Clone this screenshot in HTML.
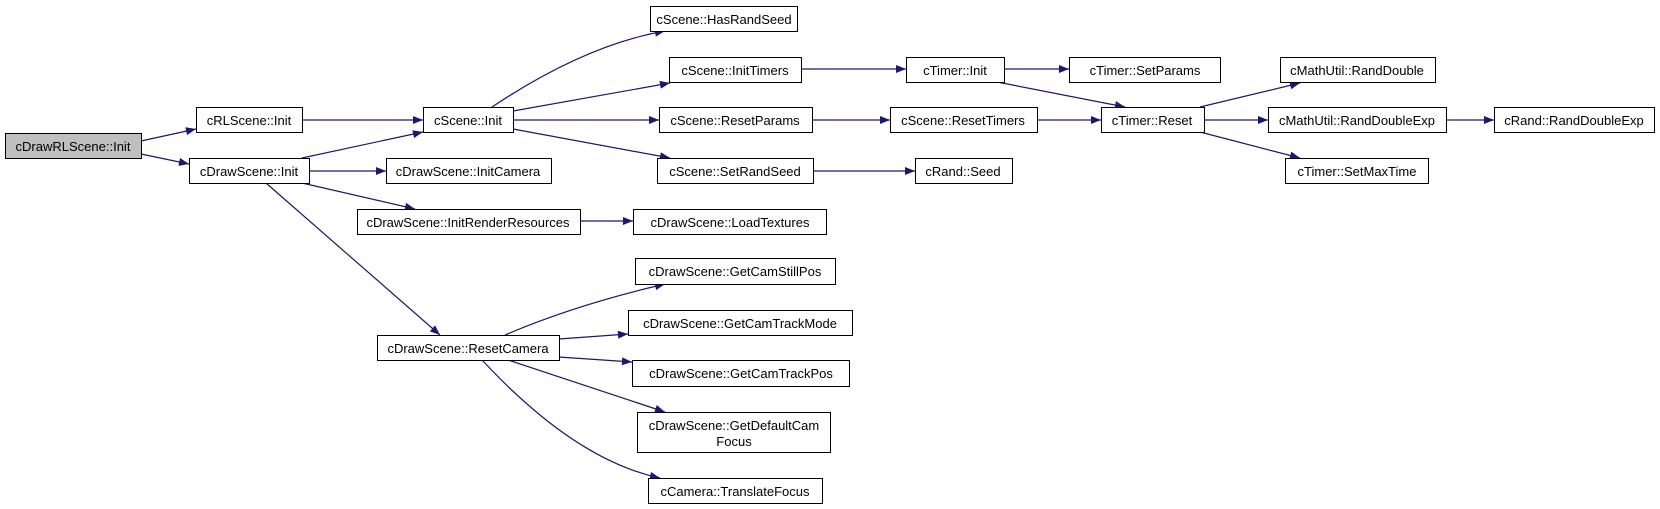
<!DOCTYPE html>
<html><head><meta charset="utf-8"><style>
html,body{margin:0;padding:0;background:#fff;}
svg{display:block;}
text{font-family:"Liberation Sans",Arial,sans-serif;font-size:13px;fill:#000;}
</style></head><body>
<svg width="1660" height="509" viewBox="0 0 1660 509" xmlns="http://www.w3.org/2000/svg">
<defs>
<marker id="a" viewBox="0 0 10 8" refX="10" refY="4" markerWidth="11" markerHeight="8" markerUnits="userSpaceOnUse" orient="auto">
<path d="M0,0 L10,4 L0,8 z" fill="#191970"/>
</marker>
</defs>
<g stroke="#191970" stroke-width="1.2" fill="none" marker-end="url(#a)">
<path d="M141,141 L196,129"/>
<path d="M141,154 L189,164"/>
<path d="M302,120 L423,120"/>
<path d="M302,158 L423,132"/>
<path d="M309,171 L386,171"/>
<path d="M302,183 L415,209"/>
<path d="M266,183 L440,335"/>
<path d="M492,107 Q585,45 665,31"/>
<path d="M513,111 L670,83"/>
<path d="M513,120 L659,120"/>
<path d="M513,129 L670,158"/>
<path d="M801,69 L906,69"/>
<path d="M1004,69 L1069,69"/>
<path d="M997,82 L1125,107"/>
<path d="M812,120 L890,120"/>
<path d="M1037,120 L1101,120"/>
<path d="M813,171 L915,171"/>
<path d="M580,221 L633,221"/>
<path d="M1200,107 L1300,83"/>
<path d="M1204,120 L1268,120"/>
<path d="M1200,132 L1300,158"/>
<path d="M1446,120 L1494,120"/>
<path d="M505,335 Q575,305 665,284"/>
<path d="M559,339 L628,334"/>
<path d="M559,357 L632,362"/>
<path d="M508,360 L665,412"/>
<path d="M482,360 Q575,460 660,478"/>
</g>
<g stroke="#000" stroke-width="1" fill="#fff">
<rect x="5.5" y="133.5" width="136" height="25" fill="#bfbfbf"/>
<rect x="196.5" y="107.5" width="106" height="25"/>
<rect x="423.5" y="107.5" width="90" height="25"/>
<rect x="189.5" y="158.5" width="120" height="25"/>
<rect x="386.5" y="158.5" width="165" height="25"/>
<rect x="357.5" y="209.5" width="223" height="25"/>
<rect x="650.5" y="6.5" width="147" height="25"/>
<rect x="669.5" y="57.5" width="132" height="25"/>
<rect x="906.5" y="57.5" width="98" height="25"/>
<rect x="1069.5" y="57.5" width="151" height="25"/>
<rect x="659.5" y="107.5" width="153" height="25"/>
<rect x="890.5" y="107.5" width="147" height="25"/>
<rect x="1101.5" y="107.5" width="103" height="25"/>
<rect x="657.5" y="158.5" width="156" height="25"/>
<rect x="915.5" y="158.5" width="97" height="25"/>
<rect x="633.5" y="209.5" width="193" height="25"/>
<rect x="1280.5" y="57.5" width="155" height="25"/>
<rect x="1268.5" y="107.5" width="178" height="25"/>
<rect x="1494.5" y="107.5" width="160" height="25"/>
<rect x="1285.5" y="158.5" width="143" height="25"/>
<rect x="377.5" y="335.5" width="182" height="25"/>
<rect x="635.5" y="258.5" width="200" height="26"/>
<rect x="628.5" y="310.5" width="224" height="25"/>
<rect x="632.5" y="360.5" width="217" height="26"/>
<rect x="637.5" y="412.5" width="193" height="40"/>
<rect x="648.5" y="478.5" width="174" height="25"/>
</g>
<g text-anchor="middle">
<text x="73" y="151">cDrawRLScene::Init</text>
<text x="249" y="125">cRLScene::Init</text>
<text x="468" y="125">cScene::Init</text>
<text x="249" y="176">cDrawScene::Init</text>
<text x="468" y="176">cDrawScene::InitCamera</text>
<text x="468" y="227">cDrawScene::InitRenderResources</text>
<text x="724" y="24">cScene::HasRandSeed</text>
<text x="735" y="75">cScene::InitTimers</text>
<text x="955" y="75">cTimer::Init</text>
<text x="1145" y="75">cTimer::SetParams</text>
<text x="735" y="125">cScene::ResetParams</text>
<text x="963" y="125">cScene::ResetTimers</text>
<text x="1152" y="125">cTimer::Reset</text>
<text x="735" y="176">cScene::SetRandSeed</text>
<text x="963" y="176">cRand::Seed</text>
<text x="730" y="227">cDrawScene::LoadTextures</text>
<text x="1357" y="75">cMathUtil::RandDouble</text>
<text x="1357" y="125">cMathUtil::RandDoubleExp</text>
<text x="1574" y="125">cRand::RandDoubleExp</text>
<text x="1357" y="176">cTimer::SetMaxTime</text>
<text x="468" y="353">cDrawScene::ResetCamera</text>
<text x="735" y="276">cDrawScene::GetCamStillPos</text>
<text x="740" y="328">cDrawScene::GetCamTrackMode</text>
<text x="741" y="378">cDrawScene::GetCamTrackPos</text>
<text x="734" y="430">cDrawScene::GetDefaultCam</text>
<text x="734" y="446">Focus</text>
<text x="735" y="496">cCamera::TranslateFocus</text>
</g>
</svg>
</body></html>
